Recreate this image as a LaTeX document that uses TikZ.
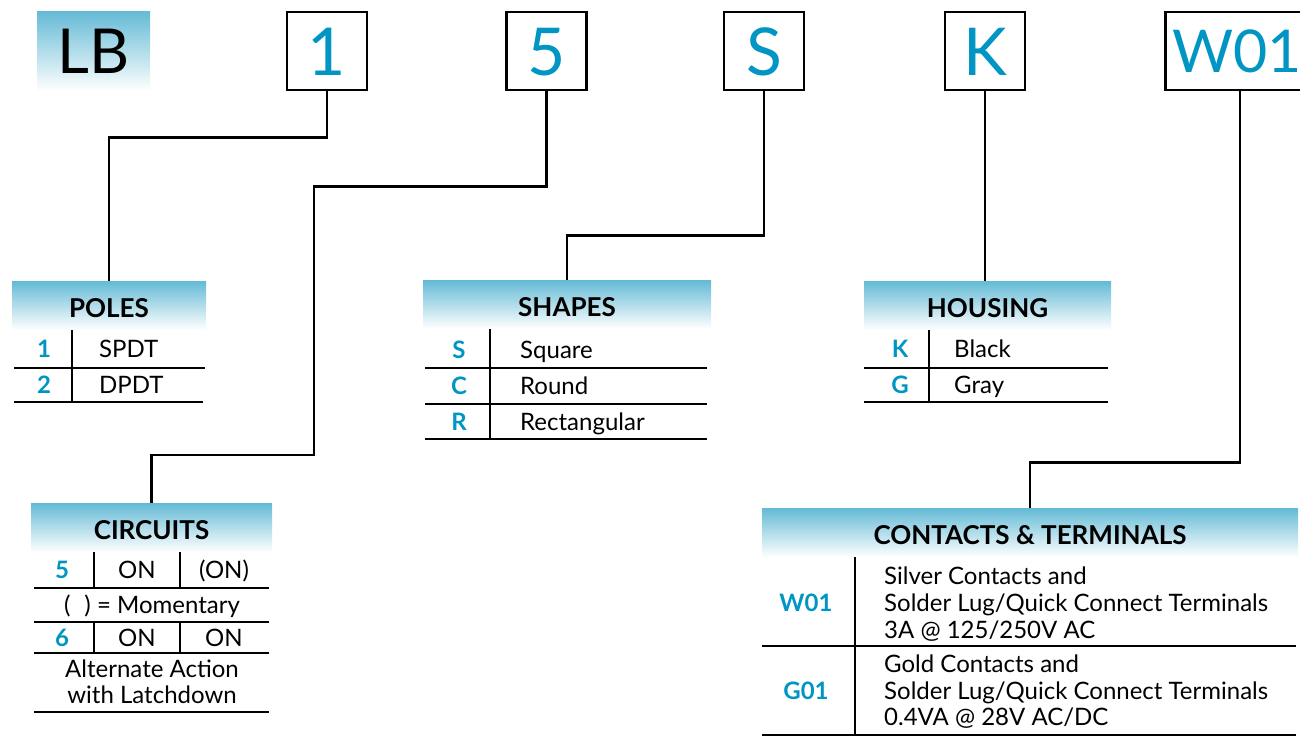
\documentclass[tikz,border=0pt]{standalone}
\usepackage{fontspec}
\setmainfont{Lato}
\usetikzlibrary{calc}

\definecolor{keyblue}{RGB}{0,149,195}
\definecolor{headblue}{RGB}{100,186,214}

\begin{document}
\begin{tikzpicture}[x=1pt,y=-1pt,
    codebox/.style={draw,line width=2.5pt,minimum width=80,minimum height=78,inner sep=0pt,
        text=keyblue,font=\fontsize{66}{66}\selectfont,text height=48pt,text depth=0pt},
    header/.style={top color=headblue,bottom color=white,minimum height=49,inner sep=0pt,
        font=\fontsize{26}{26}\selectfont\bfseries,text height=23pt,text depth=0pt},
    key/.style={inner sep=0pt,text=keyblue,font=\fontsize{24}{24}\selectfont\bfseries,
        text height=17pt,text depth=0pt},
    val/.style={inner sep=0pt,font=\fontsize{24}{24}\selectfont,text height=17pt,text depth=0pt},
    rule/.style={line width=1.6pt},
    link/.style={line width=2.5pt}]
    \useasboundingbox (0,0) rectangle (1300,736);

    % Part number
    \node[top color=headblue,bottom color=white,minimum width=113,minimum height=80,inner sep=0pt,
        font=\fontsize{62}{62}\selectfont,text height=45pt,text depth=0pt] (lb) at (93.5,51) {LB};
    \node[codebox] (b1) at (327,51) {1};
    \node[codebox] (b5) at (546.5,51) {5};
    \node[codebox] (bS) at (764,51) {S};
    \node[codebox] (bK) at (985,51) {K};
    \node[codebox,anchor=west,minimum width=170] (bW) at (1164,51) {};
    \node[anchor=west,inner sep=0pt,text=keyblue,font=\fontsize{59}{59}\selectfont,
        text height=43pt,text depth=0pt] (bWt) at (1172,51) {W01};

    % Headers
    \node[header,minimum width=194] (poles) at (109,305.5) {POLES};
    \node[header,minimum width=241] (circuits) at (151.5,527.5) {CIRCUITS};
    \node[header,minimum width=288] (shapes) at (567,304.5) {SHAPES};
    \node[header,minimum width=247] (housing) at (987.5,305.5) {HOUSING};
    \node[header,minimum width=536] (contacts) at (1030,532.5) {CONTACTS \& TERMINALS};

    % Leaders
    \coordinate (bendC) at (314,455);
    \draw[link] (b1.south) -- ++(0,46) -| (poles.north);
    \draw[link] (b5.south) -- ++(0,95) -| (bendC) -| (circuits.north);
    \draw[link] (bS.south) -- ++(0,144) -| (shapes.north);
    \draw[link] (bK.south) -- (bK.south |- housing.north);
    \draw[link] ($(bW.south west)+(76,0)$) -- ++(0,371) -| (contacts.north);

    % Poles
    \draw[rule] (72,330) -- (72,402);
    \draw[rule] (14,368) -- (205,368);
    \draw[rule] (14,402) -- (203,402);
    \node[key] (p1) at (44,349) {1};
    \node[key] (p2) at (44,385) {2};
    \node[val,anchor=west] (p1v) at (99,349) {SPDT};
    \node[val,anchor=west] (p2v) at (99,385) {DPDT};

    % Circuits
    \draw[rule] (94,552) -- (94,588) (180,552) -- (180,588);
    \draw[rule] (94,622) -- (94,653) (180,622) -- (180,653);
    \draw[rule] (34,588) -- (269,588);
    \draw[rule] (34,622) -- (269,622);
    \draw[rule] (34,653) -- (269,653);
    \draw[rule] (34,712) -- (269,712);
    \node[key] (c5) at (62,570) {5};
    \node[val] (c5a) at (137,570) {ON};
    \node[val] (c5b) at (224,570) {(ON)};
    \node[val] (mom) at (152,605) {(\hspace{14pt}) = Momentary};
    \node[key] (c6) at (62,638) {6};
    \node[val] (c6a) at (137,638) {ON};
    \node[val] (c6b) at (224,638) {ON};
    \node[val] (alt1) at (152,669) {Alternate Action};
    \node[val] (alt2) at (152,695) {with Latchdown};

    % Shapes
    \draw[rule] (490,329) -- (490,439);
    \draw[rule] (425,368) -- (707,368);
    \draw[rule] (425,404) -- (707,404);
    \draw[rule] (425,439) -- (707,439);
    \node[key] (sS) at (459,350) {S};
    \node[key] (sC) at (459,386) {C};
    \node[key] (sR) at (459,422) {R};
    \node[val,anchor=west] (sSv) at (520,350) {Square};
    \node[val,anchor=west] (sCv) at (520,386) {Round};
    \node[val,anchor=west] (sRv) at (520,422) {Rectangular};

    % Housing
    \draw[rule] (929,330) -- (929,402);
    \draw[rule] (864,368) -- (1108,368);
    \draw[rule] (864,402) -- (1108,402);
    \node[key] (hK) at (900,349) {K};
    \node[key] (hG) at (900,385) {G};
    \node[val,anchor=west] (hKv) at (954,349) {Black};
    \node[val,anchor=west] (hGv) at (954,385) {Gray};

    % Contacts & terminals
    \draw[rule] (855,557) -- (855,735);
    \draw[rule] (762,646) -- (1296,646);
    \draw[rule] (762,735) -- (1296,735);
    \node[key] (tW) at (806,603) {W01};
    \node[key] (tG) at (806,691) {G01};
    \node[val,anchor=west] (tW1) at (884,576) {Silver Contacts and};
    \node[val,anchor=west] (tW2) at (884,603) {Solder Lug/Quick Connect Terminals};
    \node[val,anchor=west] (tW3) at (884,630) {3A @ 125/250V AC};
    \node[val,anchor=west] (tG1) at (884,664) {Gold Contacts and};
    \node[val,anchor=west] (tG2) at (884,691) {Solder Lug/Quick Connect Terminals};
    \node[val,anchor=west] (tG3) at (884,717) {0.4VA @ 28V AC/DC};

\end{tikzpicture}
\end{document}
